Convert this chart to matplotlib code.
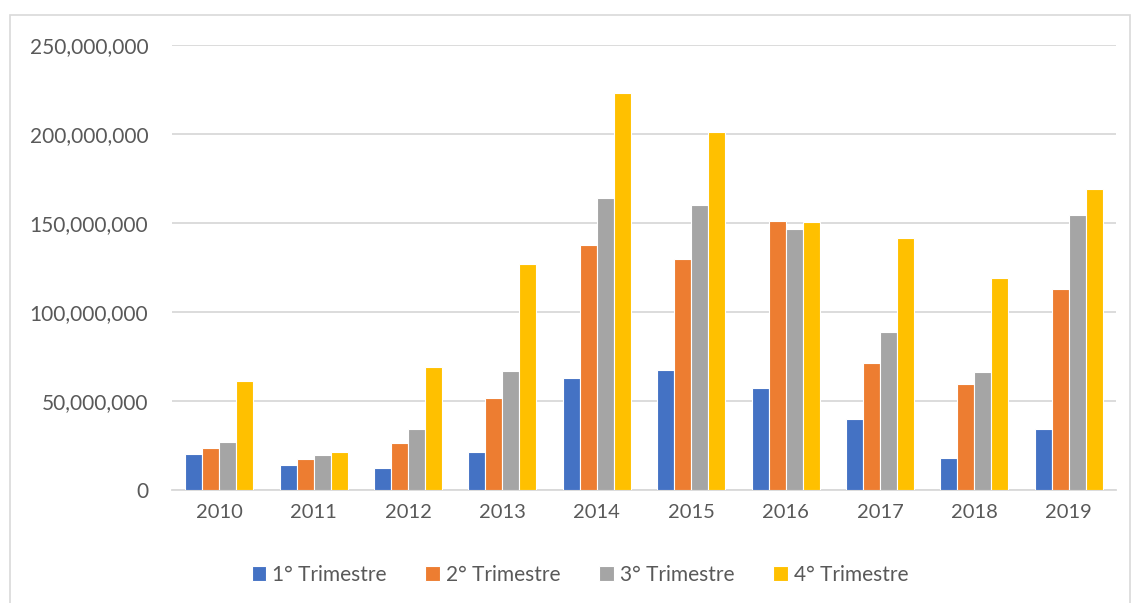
import matplotlib
matplotlib.use("Agg")
import matplotlib.pyplot as plt
from matplotlib.patches import Rectangle
from matplotlib.ticker import FuncFormatter
import numpy as np

years = ["2010", "2011", "2012", "2013", "2014", "2015", "2016", "2017", "2018", "2019"]
series_names = ["1° Trimestre", "2° Trimestre", "3° Trimestre", "4° Trimestre"]
q1 = [20.1e6, 14.0e6, 12.4e6, 21.2e6, 63.1e6, 67.2e6, 57.1e6, 39.7e6, 18.2e6, 34.1e6]
q2 = [23.6e6, 17.4e6, 26.2e6, 51.5e6, 137.6e6, 129.6e6, 151.1e6, 71.3e6, 59.6e6, 112.7e6]
q3 = [27.1e6, 19.9e6, 34.1e6, 67.0e6, 163.9e6, 159.9e6, 146.6e6, 88.6e6, 66.3e6, 154.7e6]
q4 = [61.2e6, 21.2e6, 68.9e6, 126.8e6, 223.0e6, 201.1e6, 150.6e6, 141.4e6, 118.9e6, 169.1e6]
y_ticks = [0, 50e6, 100e6, 150e6, 200e6, 250e6]

colors = ["#4472C4", "#ED7D31", "#A5A5A5", "#FFC000"]
grid_color = "#D9D9D9"
text_color = "#595959"

plt.rcParams["font.family"] = ["Lato", "DejaVu Sans"]

W, H = 1132, 603
fig = plt.figure(figsize=(W / 100, H / 100), dpi=100)
fig.patch.set_facecolor("white")

# light chart-area border
fig.patches.append(Rectangle((10 / W, -0.01), 1120 / W, (H - 15) / H + 0.01,
                             transform=fig.transFigure, fill=False,
                             edgecolor=grid_color, linewidth=1.2))

ax = fig.add_axes([172 / W, (H - 490) / H, 944 / W, 445 / H])
x = np.arange(len(years))
pitch = 0.18
for i, (vals, name, c) in enumerate(zip([q1, q2, q3, q4], series_names, colors)):
    ax.bar(x + (i - 1.5) * pitch, vals, width=pitch, color=c, label=name,
           edgecolor="white", linewidth=0.8, zorder=3)

ax.set_xlim(-0.5, len(years) - 0.5)
ax.set_ylim(0, 250e6)
ax.set_yticks(y_ticks)
ax.yaxis.set_major_formatter(FuncFormatter(lambda v, p: f"{int(v):,}"))
ax.set_xticks(x)
ax.set_xticklabels(years)
ax.grid(axis="y", color=grid_color, linewidth=1.3, zorder=0)
for s in ["top", "right", "left"]:
    ax.spines[s].set_visible(False)
ax.spines["bottom"].set_color(grid_color)
ax.spines["bottom"].set_linewidth(1.3)
ax.tick_params(axis="both", length=0, labelcolor=text_color)
ax.tick_params(axis="y", pad=17, labelsize=15)
ax.tick_params(axis="x", pad=10, labelsize=14.5)

leg = fig.legend(loc="center", bbox_to_anchor=(580 / W, (H - 575) / H), ncol=4,
                 frameon=False, fontsize=15, handlelength=0.7, handleheight=0.7,
                 handletextpad=0.3, columnspacing=1.85, labelcolor=text_color)

fig.savefig("out.png", dpi=100, facecolor="white")
